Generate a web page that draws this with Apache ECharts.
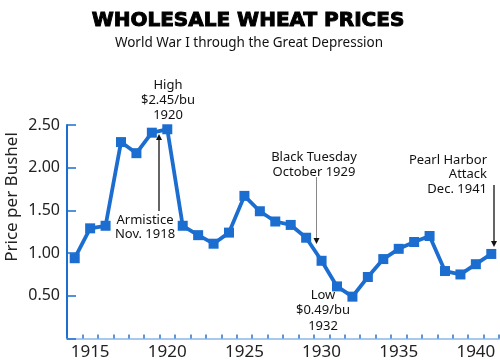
<!DOCTYPE html>
<html>
<head>
<meta charset="utf-8">
<script src="https://cdn.jsdelivr.net/npm/echarts@6/dist/echarts.min.js"></script>
<style>html,body{margin:0;padding:0;background:#fff;}#c{width:500px;height:362px;}</style>
</head>
<body>
<div id="c"></div>
<script>
var years = ['1914','1915','1916','1917','1918','1919','1920','1921','1922','1923','1924','1925','1926','1927','1928','1929','1930','1931','1932','1933','1934','1935','1936','1937','1938','1939','1940','1941'];
var prices = [0.94,1.29,1.32,2.30,2.17,2.41,2.45,1.32,1.21,1.11,1.24,1.67,1.49,1.37,1.33,1.18,0.91,0.61,0.49,0.72,0.93,1.05,1.13,1.20,0.79,0.75,0.87,0.99];
var yTicks = [0.5, 1.0, 1.5, 2.0, 2.5];
var xLabelYears = ['1915','1920','1925','1930','1935','1940'];
var titleText = 'WHOLESALE WHEAT PRICES';
var subtitleText = 'World War I through the Great Depression';
var yName = 'Price per Bushel';

var BLUE = '#1c6dd0';
var chart = echarts.init(document.getElementById('c'), null, {renderer: 'canvas'});
var annFont = '13px "Noto Sans"';
function txt(x, y, s, align, color) {
  return {type: 'text', x: x, y: y, style: {text: s, font: annFont, fill: color || '#111', align: align || 'center', verticalAlign: 'middle'}, z: 10};
}
function arrow(x, y1, y2, color, lw) {
  var dir = y2 > y1 ? 1 : -1;
  return [
    {type: 'line', shape: {x1: x, y1: y1, x2: x, y2: y2 - dir * 4}, style: {stroke: color, lineWidth: lw}, z: 10},
    {type: 'polygon', shape: {points: [[x, y2], [x - 3, y2 - dir * 6], [x + 3, y2 - dir * 6]]}, style: {fill: '#111'}, z: 10}
  ];
}
var graphics = [
  {type: 'text', x: 248, y: 20.5, style: {text: titleText, font: 'bold 20px "DejaVu Sans"', fill: '#000', stroke: '#000', lineWidth: 1, align: 'center', verticalAlign: 'middle'}},
  {type: 'text', x: 249, y: 43, style: {text: subtitleText, font: '13.5px "Noto Sans"', fill: '#111', align: 'center', verticalAlign: 'middle'}},
  {type: 'text', x: 12, y: 197, rotation: Math.PI / 2, style: {text: yName, font: '17px "Noto Sans"', fill: '#222', align: 'center', verticalAlign: 'middle'}},
  txt(168, 85, 'High'), txt(168, 100, '$2.45/bu'), txt(168, 115, '1920'),
  txt(145, 220, 'Armistice'), txt(145, 234, 'Nov. 1918'),
  txt(314, 157, 'Black Tuesday'), txt(314, 172, 'October 1929'),
  txt(323, 295, 'Low'), txt(323, 310, '$0.49/bu'), txt(323, 326, '1932'),
  txt(487, 160, 'Pearl Harbor', 'right'), txt(487, 174, 'Attack', 'right'), txt(487, 189, 'Dec. 1941', 'right')
].concat(arrow(159, 211, 134, '#111', 1.3))
 .concat(arrow(316.5, 177, 244, '#888', 1))
 .concat(arrow(494, 185, 247, '#111', 1.3));

chart.setOption({
  animation: false,
  backgroundColor: '#fff',
  grid: {left: 67, right: 1, top: 125, bottom: 23.5, containLabel: false},
  xAxis: {
    type: 'category',
    data: years,
    boundaryGap: true,
    axisLine: {show: true, lineStyle: {color: '#a8c8ef', width: 2}},
    axisTick: {show: true, inside: true, length: 4, interval: 0, lineStyle: {color: '#2a72cc', width: 1.5}},
    axisLabel: {
      interval: function (i, v) { return xLabelYears.indexOf(v) >= 0; },
      color: '#222', fontSize: 17, fontFamily: 'Noto Sans', margin: 5
    },
    splitLine: {show: false}
  },
  yAxis: {
    type: 'value',
    min: 0, max: 2.5, interval: 0.5,
    axisLine: {show: true, lineStyle: {color: BLUE, width: 2}},
    axisTick: {show: true, inside: true, length: 9, lineStyle: {color: BLUE, width: 1.5}},
    axisLabel: {
      color: '#222', fontSize: 16, fontFamily: 'Noto Sans', margin: 7,
      formatter: function (v) { return yTicks.indexOf(v) >= 0 ? v.toFixed(2) : ''; }
    },
    splitLine: {show: false}
  },
  series: [{
    type: 'line',
    data: prices,
    symbol: 'rect',
    symbolSize: 10,
    showAllSymbol: true,
    lineStyle: {color: BLUE, width: 3.8},
    itemStyle: {color: BLUE},
    z: 5
  }],
  graphic: graphics
});
</script>
</body>
</html>
